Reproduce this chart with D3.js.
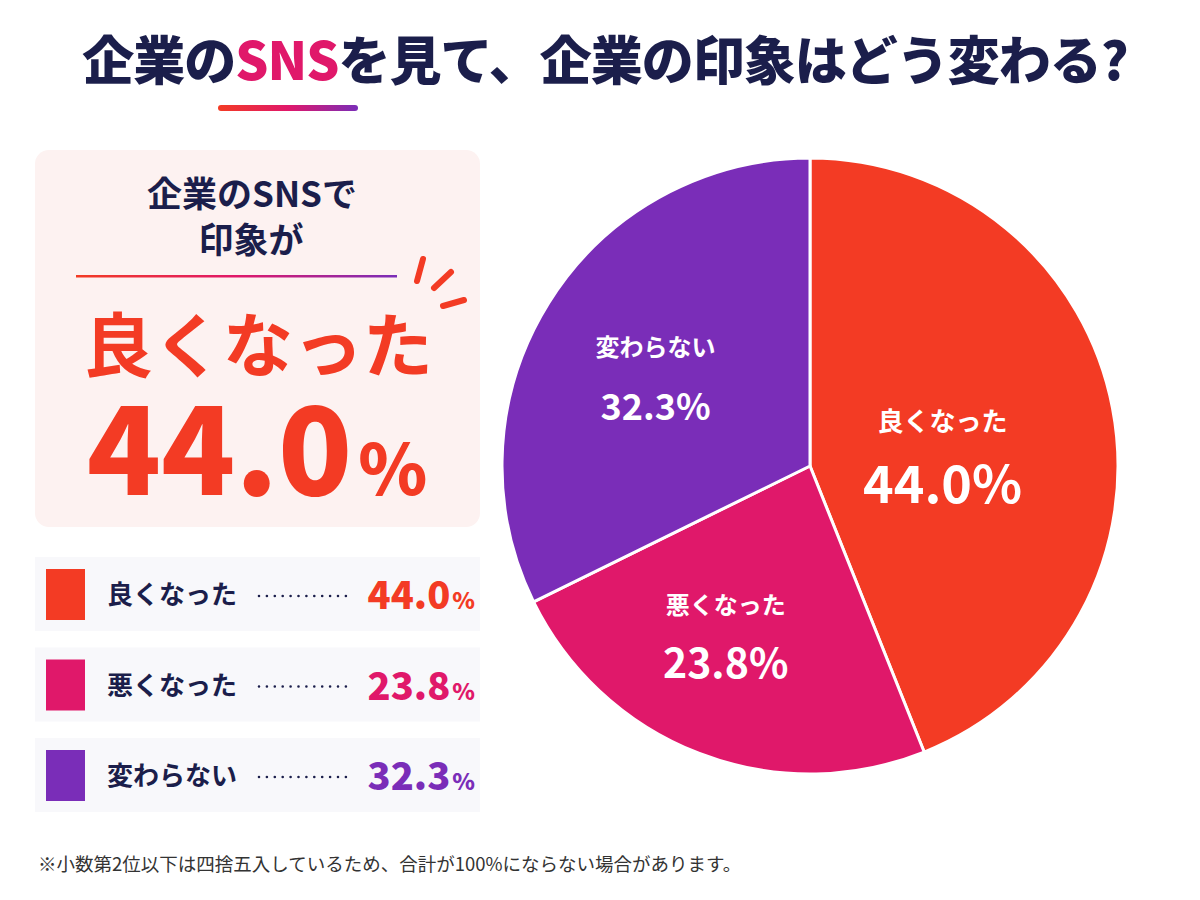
<!DOCTYPE html>
<html>
<head>
<meta charset="utf-8">
<script src="https://cdn.jsdelivr.net/npm/d3@7"></script>
<style>
  body { margin: 0; background: #fff; }
  svg text { font-family: "Noto Sans CJK JP", "Noto Sans", sans-serif; }
</style>
</head>
<body>
<div id="chart"></div>
<script>
// categories and shares (%)
var categories = ["良くなった", "悪くなった", "変わらない"];
var values = [44.0, 23.8, 32.3];
var colors = ["#F33B24", "#E0186A", "#7A2DB8"];

var titleParts = ["企業の", "SNS", "を見て、企業の印象はどう変わる?"];
var note = "※小数第2位以下は四捨五入しているため、合計が100%にならない場合があります。";

var width = 1200, height = 900;
var navy = "#1B1E4B";

var svg = d3.select("#chart").append("svg")
  .attr("width", width)
  .attr("height", height);

// gradient red -> pink -> purple
var defs = svg.append("defs");
var grad = defs.append("linearGradient").attr("id", "grad");
grad.append("stop").attr("offset", "0%").attr("stop-color", colors[0]);
grad.append("stop").attr("offset", "50%").attr("stop-color", colors[1]);
grad.append("stop").attr("offset", "100%").attr("stop-color", colors[2]);

// title
var title = svg.append("text")
  .attr("x", 605).attr("y", 80)
  .attr("text-anchor", "middle")
  .attr("font-size", 52)
  .attr("font-weight", 900)
  .attr("letter-spacing", -1)
  .attr("fill", navy);
title.selectAll("tspan").data(titleParts).enter().append("tspan")
  .attr("fill", function(d, i) { return i == 1 ? colors[1] : navy; })
  .text(function(d) { return d; });

svg.append("rect")
  .attr("x", 218).attr("y", 105).attr("width", 140).attr("height", 6)
  .attr("rx", 3).attr("fill", "url(#grad)");

// left panel with the headline figure
svg.append("rect")
  .attr("x", 35).attr("y", 150).attr("width", 445).attr("height", 377)
  .attr("rx", 14).attr("fill", "#FDF2F1");

svg.append("text").attr("x", 252).attr("y", 207)
  .attr("text-anchor", "middle").attr("font-size", 35).attr("font-weight", 700)
  .attr("fill", navy).text("企業のSNSで");
svg.append("text").attr("x", 251).attr("y", 253)
  .attr("text-anchor", "middle").attr("font-size", 35).attr("font-weight", 700)
  .attr("fill", navy).text("印象が");

svg.append("rect")
  .attr("x", 76).attr("y", 275).attr("width", 321).attr("height", 2.5)
  .attr("fill", "url(#grad)");

// little burst marks
var burst = [[[423, 259], [417, 281]], [[451, 272], [434, 288]], [[443, 306], [464, 300]]];
svg.selectAll(".burst").data(burst).enter().append("line")
  .attr("class", "burst")
  .attr("x1", function(d) { return d[0][0]; }).attr("y1", function(d) { return d[0][1]; })
  .attr("x2", function(d) { return d[1][0]; }).attr("y2", function(d) { return d[1][1]; })
  .attr("stroke", colors[0]).attr("stroke-width", 6).attr("stroke-linecap", "round");

svg.append("text").attr("x", 258).attr("y", 372)
  .attr("text-anchor", "middle").attr("font-size", 70).attr("font-weight", 700)
  .attr("fill", colors[0]).text(categories[0]);

var big = svg.append("text").attr("x", 257).attr("y", 495)
  .attr("text-anchor", "middle").attr("font-weight", 900)
  .attr("fill", colors[0]);
big.append("tspan").attr("font-size", 122).text(values[0].toFixed(1));
big.append("tspan").attr("font-size", 70).attr("dx", 6).text("%");

// legend rows
var legend = svg.selectAll(".legend").data(categories).enter().append("g")
  .attr("class", "legend")
  .attr("transform", function(d, i) { return "translate(35," + (557 + i * 90.5) + ")"; });

legend.append("rect")
  .attr("width", 445).attr("height", 74).attr("fill", "#F8F8FB");
legend.append("rect")
  .attr("x", 11).attr("y", 12).attr("width", 39).attr("height", 51)
  .attr("fill", function(d, i) { return colors[i]; });
legend.append("text")
  .attr("x", 72).attr("y", 47)
  .attr("font-size", 26).attr("font-weight", 700).attr("fill", navy)
  .text(function(d) { return d; });
legend.append("line")
  .attr("x1", 224).attr("x2", 312).attr("y1", 39).attr("y2", 39)
  .attr("stroke", navy).attr("stroke-width", 2.6)
  .attr("stroke-linecap", "round").attr("stroke-dasharray", "0 7.9");
var lv = legend.append("text")
  .attr("x", 440).attr("y", 52)
  .attr("text-anchor", "end").attr("font-weight", 900)
  .attr("fill", function(d, i) { return colors[i]; });
lv.append("tspan").attr("font-size", 38).text(function(d, i) { return values[i].toFixed(1); });
lv.append("tspan").attr("font-size", 23).attr("dx", 2).text("%");

// pie
var cx = 810, cy = 466, r = 308;
var pieData = categories.map(function(c, i) { return {name: c, value: values[i], color: colors[i]}; });
var pie = d3.pie().sort(null).value(function(d) { return d.value; });
var arc = d3.arc().innerRadius(0).outerRadius(r);

var g = svg.append("g").attr("transform", "translate(" + cx + "," + cy + ")");
var arcs = pie(pieData);

g.selectAll("path").data(arcs).enter().append("path")
  .attr("d", arc)
  .attr("fill", function(d) { return d.data.color; })
  .attr("stroke", "#fff").attr("stroke-width", 3)
  .attr("stroke-linejoin", "round");

var labelArc = function(d) {
  var rr = d.data.value > 40 ? 135 : (d.data.value < 25 ? 195 : 182);
  var a = (d.startAngle + d.endAngle) / 2 + (d.data.value < 25 ? 0.08 : 0);
  return [Math.sin(a) * rr, -Math.cos(a) * rr];
};

var lab = g.selectAll(".lab").data(arcs).enter().append("g")
  .attr("class", "lab")
  .attr("transform", function(d) {
    var c = labelArc(d);
    var dy = d.data.value > 40 ? 12 : (d.data.value < 25 ? -6 : 8);
    return "translate(" + c[0] + "," + (c[1] + dy) + ")";
  });
lab.append("text")
  .attr("y", -22).attr("text-anchor", "middle")
  .attr("font-size", function(d) { return d.data.value > 40 ? 26 : 24; })
  .attr("font-weight", 700).attr("fill", "#fff")
  .text(function(d) { return d.data.name; });
lab.append("text")
  .attr("y", function(d) { return d.data.value > 40 ? 50 : 42; })
  .attr("text-anchor", "middle")
  .attr("font-size", function(d) { return d.data.value > 40 ? 52 : (d.data.value < 25 ? 41 : 36); })
  .attr("font-weight", 700).attr("fill", "#fff")
  .text(function(d) { return d.data.value.toFixed(1) + "%"; });

// footnote
svg.append("text").attr("x", 38).attr("y", 871)
  .attr("font-size", 18.5).attr("fill", "#333")
  .text(note);
</script>
</body>
</html>
